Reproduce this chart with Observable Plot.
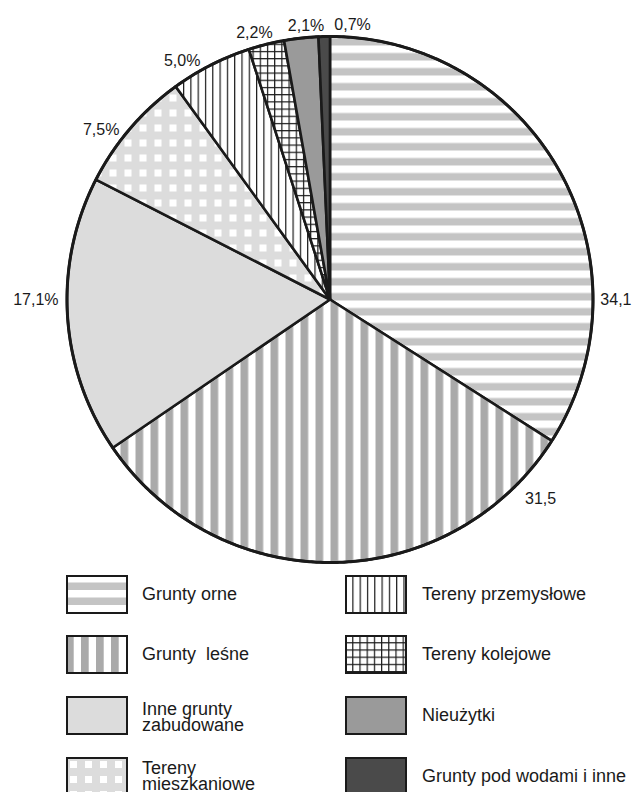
<!DOCTYPE html>
<html><head><meta charset="utf-8">
<script src="https://cdn.jsdelivr.net/npm/d3@7"></script>
<script src="https://cdn.jsdelivr.net/npm/@observablehq/plot@0.6"></script>
<style>
body{margin:0;background:#fff;font-family:"Liberation Sans",Arial,sans-serif;}
#wrap{position:relative;width:632px;height:792px;overflow:hidden;}
.sw{position:absolute;}
.lab{position:absolute;font-size:18px;line-height:16px;color:#1a1a1a;white-space:pre;transform:translateY(-50%);}
</style></head><body><div id="wrap"></div><script>
// ---- data ----
const categories = ["Grunty orne","Grunty  leśne","Inne grunty\nzabudowane","Tereny\nmieszkaniowe","Tereny przemysłowe","Tereny kolejowe","Nieużytki","Grunty pod wodami i inne"];
const values = [34.1, 31.5, 17.1, 7.5, 5.0, 2.2, 2.1, 0.7];
const valueLabels = ["34,1","31,5","17,1%","7,5%","5,0%","2,2%","2,1%","0,7%"];

// ---- layout (label placement around the pie) ----
const labelAngle = [90, 133.5, 270, 308.9, 331.5, 344.2, 355, 4.7];
const labelDist  = [1.028, 1.104, 1.032, 1.029, 1.033, 1.055, 1.046, 1.046];
const labelAnchor = ["start","middle","end","end","end","middle","middle","middle"];

function patternDefs(p){
  return `
  <pattern id="${p}0" patternUnits="userSpaceOnUse" width="15" height="15"><rect width="15" height="15" fill="#fff"/><rect y="7.5" width="15" height="7.5" fill="#c4c4c4"/></pattern>
  <pattern id="${p}1" patternUnits="userSpaceOnUse" width="15" height="15"><rect width="15" height="15" fill="#fff"/><rect x="0" width="7.7" height="15" fill="#aaaaaa"/></pattern>
  <pattern id="${p}3" patternUnits="userSpaceOnUse" width="15" height="15"><rect width="15" height="15" fill="#dcdcdc"/><rect x="4" y="4" width="7" height="7" fill="#fff"/></pattern>
  <pattern id="${p}4" patternUnits="userSpaceOnUse" width="7.3" height="10"><rect width="7.3" height="10" fill="#fff"/><rect x="0" width="1.2" height="10" fill="#1a1a1a"/></pattern>
  <pattern id="${p}5" patternUnits="userSpaceOnUse" width="7.2" height="7.2"><rect width="7.2" height="7.2" fill="#fff"/><rect x="0" width="1.2" height="7.2" fill="#1a1a1a"/><rect y="0" width="7.2" height="1.2" fill="#1a1a1a"/></pattern>`;
}
const fillsFor = p => [`url(#${p}0)`,`url(#${p}1)`,"#dcdcdc",`url(#${p}3)`,`url(#${p}4)`,`url(#${p}5)`,"#9a9a9a","#4a4a4a"];
const fills = fillsFor("pp");

const total = d3.sum(values);
let cum = 0;
const slices = values.map((v,i)=>{const a0=cum/total*2*Math.PI; cum+=v; const a1=cum/total*2*Math.PI; return {i,a0,a1};});
const slicePts = slices.flatMap(s=>{
  const n=Math.max(2,Math.ceil((s.a1-s.a0)/(Math.PI/360)));
  const pts=[{i:s.i,x:0,y:0}];
  for(let k=0;k<=n;k++){const t=s.a0+(s.a1-s.a0)*k/n; pts.push({i:s.i,x:Math.sin(t),y:Math.cos(t)});}
  return pts;
});
const circlePts = d3.range(0,361,0.5).map(a=>({x:Math.sin(a*Math.PI/180),y:Math.cos(a*Math.PI/180)}));
const labelData = valueLabels.map((t,i)=>({t, anchor:labelAnchor[i], x:labelDist[i]*Math.sin(labelAngle[i]*Math.PI/180), y:labelDist[i]*Math.cos(labelAngle[i]*Math.PI/180)}));

const svg = Plot.plot({
  width: 632, height: 570,
  x: {domain:[-1,1], range:[66.5,592.5], axis:null},
  y: {domain:[-1,1], range:[562,36], axis:null},
  style: {fontFamily:"Liberation Sans, Arial, sans-serif", background:"#fff", overflow:"visible"},
  marks: [
    ...categories.map((c,i)=>Plot.line(slicePts.filter(d=>d.i===i),{x:"x",y:"y",curve:"linear-closed",fill:fills[i],stroke:"#1a1a1a",strokeWidth:2.6,strokeLinejoin:"round"})),
    Plot.line(circlePts,{x:"x",y:"y",stroke:"#1a1a1a",strokeWidth:3}),
    ...["start","middle","end"].map(a=>Plot.text(labelData.filter(d=>d.anchor===a),{x:"x",y:"y",text:"t",textAnchor:a,fontSize:16,fill:"#1a1a1a"}))
  ]
});
svg.insertAdjacentHTML("afterbegin", `<defs>${patternDefs("pp")}</defs>`);
svg.style.position="absolute"; svg.style.left="0"; svg.style.top="0";
const wrap = document.getElementById("wrap");
wrap.appendChild(svg);

// ---- legend ----
const rowTop = [575, 635, 696, 757];
const colSw = [66, 345], colTx = [142, 422];
const lf = fillsFor("lp");
const defsSvg = `<svg width="0" height="0" style="position:absolute"><defs>${patternDefs("lp")}</defs></svg>`;
wrap.insertAdjacentHTML("beforeend", defsSvg);
categories.forEach((c,i)=>{
  const col = Math.floor(i/4), row = i%4;
  const top = rowTop[row];
  wrap.insertAdjacentHTML("beforeend",
    `<svg class="sw" style="left:${colSw[col]}px;top:${top}px" width="62" height="39"><rect x="1" y="1" width="60" height="37" fill="${lf[i]}" stroke="#1a1a1a" stroke-width="2"/></svg>`);
  const two = c.includes("\n");
  const d = document.createElement("div");
  d.className="lab";
  d.style.left = colTx[col]+"px";
  d.style.top = (top+19+(two?(row===3?-0.5:1.5):0))+"px";
  d.textContent = c;
  wrap.appendChild(d);
});
</script></body></html>
